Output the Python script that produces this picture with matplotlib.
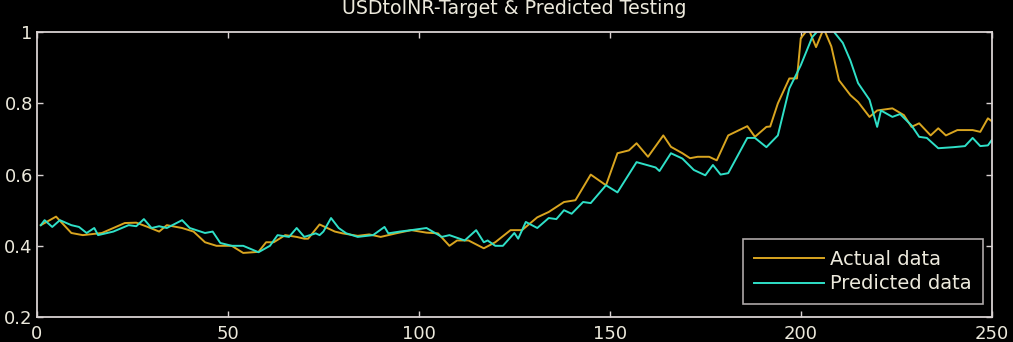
import numpy as np
import matplotlib
matplotlib.use('Agg')
import matplotlib.pyplot as plt

# values
actual_x = [1, 5, 9, 12, 17, 20, 23, 26, 29, 32, 34, 38, 41, 44, 47, 51, 54, 58, 60, 62,
            65, 68, 70, 71, 74, 76, 78, 80, 84, 87, 90, 94, 98, 102, 105, 108, 110, 113, 117, 120,
            124, 127, 131, 134, 138, 141, 145, 149, 152, 155, 157, 160, 164, 166, 169, 171, 173, 176, 178, 181,
            186, 188, 191, 192, 194, 197, 199, 200, 202, 204, 206, 208, 210, 213, 215, 218, 220, 224, 227, 229,
            231, 234, 236, 238, 241, 245, 247, 249, 250]
actual_y = [0.458, 0.482, 0.436, 0.43, 0.436, 0.45, 0.464, 0.465, 0.453, 0.44, 0.458, 0.45, 0.44, 0.41, 0.40, 0.40, 0.38, 0.383, 0.41, 0.41,
            0.43, 0.425, 0.42, 0.42, 0.46, 0.45, 0.44, 0.435, 0.428, 0.432, 0.425, 0.435, 0.444, 0.437, 0.435, 0.40, 0.415, 0.415, 0.393, 0.41,
            0.444, 0.444, 0.48, 0.495, 0.523, 0.528, 0.60, 0.57, 0.66, 0.668, 0.688, 0.65, 0.71, 0.678, 0.66, 0.646, 0.65, 0.65, 0.64, 0.71,
            0.736, 0.706, 0.734, 0.735, 0.80, 0.87, 0.87, 0.983, 1.01, 0.958, 1.01, 0.96, 0.865, 0.823, 0.804, 0.762, 0.78, 0.786, 0.767, 0.734,
            0.744, 0.71, 0.73, 0.71, 0.725, 0.725, 0.72, 0.758, 0.75]

pred_x = [1, 2, 4, 6, 9, 11, 13, 15, 16, 20, 24, 26, 28, 30, 32, 34, 38, 40, 44, 46,
          48, 51, 54, 58, 61, 63, 66, 68, 70, 73, 74, 75, 77, 79, 81, 84, 88, 91, 92, 95,
          98, 102, 106, 108, 112, 115, 117, 118, 120, 122, 125, 126, 128, 131, 134, 136, 138, 140, 143, 145,
          149, 152, 157, 162, 163, 166, 169, 172, 175, 177, 179, 181, 186, 188, 191, 194, 197, 199, 200, 203,
          205, 208, 211, 213, 215, 218, 220, 221, 224, 226, 229, 231, 233, 236, 240, 243, 245, 247, 249, 250]
pred_y = [0.458, 0.472, 0.453, 0.472, 0.458, 0.453, 0.436, 0.45, 0.43, 0.44, 0.458, 0.455, 0.475, 0.45, 0.455, 0.45, 0.472, 0.45, 0.436, 0.44,
          0.408, 0.40, 0.40, 0.382, 0.40, 0.43, 0.425, 0.45, 0.425, 0.435, 0.43, 0.44, 0.478, 0.45, 0.435, 0.425, 0.43, 0.453, 0.435, 0.44,
          0.444, 0.45, 0.425, 0.43, 0.415, 0.444, 0.41, 0.415, 0.40, 0.40, 0.436, 0.42, 0.467, 0.45, 0.478, 0.475, 0.50, 0.49, 0.523, 0.52,
          0.57, 0.55, 0.635, 0.62, 0.61, 0.66, 0.645, 0.613, 0.598, 0.627, 0.60, 0.604, 0.703, 0.703, 0.677, 0.71, 0.842, 0.885, 0.907, 0.986,
          1.01, 1.01, 0.97, 0.92, 0.857, 0.81, 0.734, 0.78, 0.762, 0.77, 0.738, 0.706, 0.703, 0.674, 0.677, 0.68, 0.703, 0.68, 0.682, 0.697]

xticks = [0, 50, 100, 150, 200, 250]
yticks = [0.2, 0.4, 0.6, 0.8, 1.0]
ytick_labels = ['0.2', '0.4', '0.6', '0.8', '1']

fg = '#d9d2d2'
txt = '#ece9dc'

plt.rcParams['font.family'] = ['DejaVu Sans']

fig = plt.figure(figsize=(10.13, 3.42), dpi=100, facecolor='black')
ax = fig.add_axes([0.0365, 0.073, 0.9425, 0.833], facecolor='black')

ax.plot(actual_x, actual_y, color='#d9a520', lw=1.4, label='Actual data')
ax.plot(pred_x, pred_y, color='#2fe0c8', lw=1.4, label='Predicted data')

ax.set_xlim(0, 250)
ax.set_ylim(0.2, 1.0)
ax.set_xticks(xticks)
ax.set_yticks(yticks)
ax.set_yticklabels(ytick_labels)

for s in ax.spines.values():
    s.set_color(fg)
    s.set_linewidth(1.3)
ax.tick_params(direction='in', length=4, width=1, colors=fg, labelcolor=txt,
               labelsize=13, top=True, right=True)
ax.tick_params(axis='y', pad=3)
ax.tick_params(axis='x', pad=6)

# title sits high, partly cut by the top edge as in the reference
ax.set_title('USDtoINR-Target & Predicted Testing', color=txt, fontsize=13.7, pad=13)

leg = ax.legend(loc='lower right', fontsize=14, frameon=True, fancybox=False,
                facecolor='black', edgecolor=fg, labelcolor=txt,
                handlelength=3.6, handletextpad=0.35, borderpad=0.55, labelspacing=0.3,
                borderaxespad=0, bbox_to_anchor=(0.9906, 0.0456))
leg.get_frame().set_linewidth(1.2)

fig.savefig('out.png', dpi=100, facecolor='black')
